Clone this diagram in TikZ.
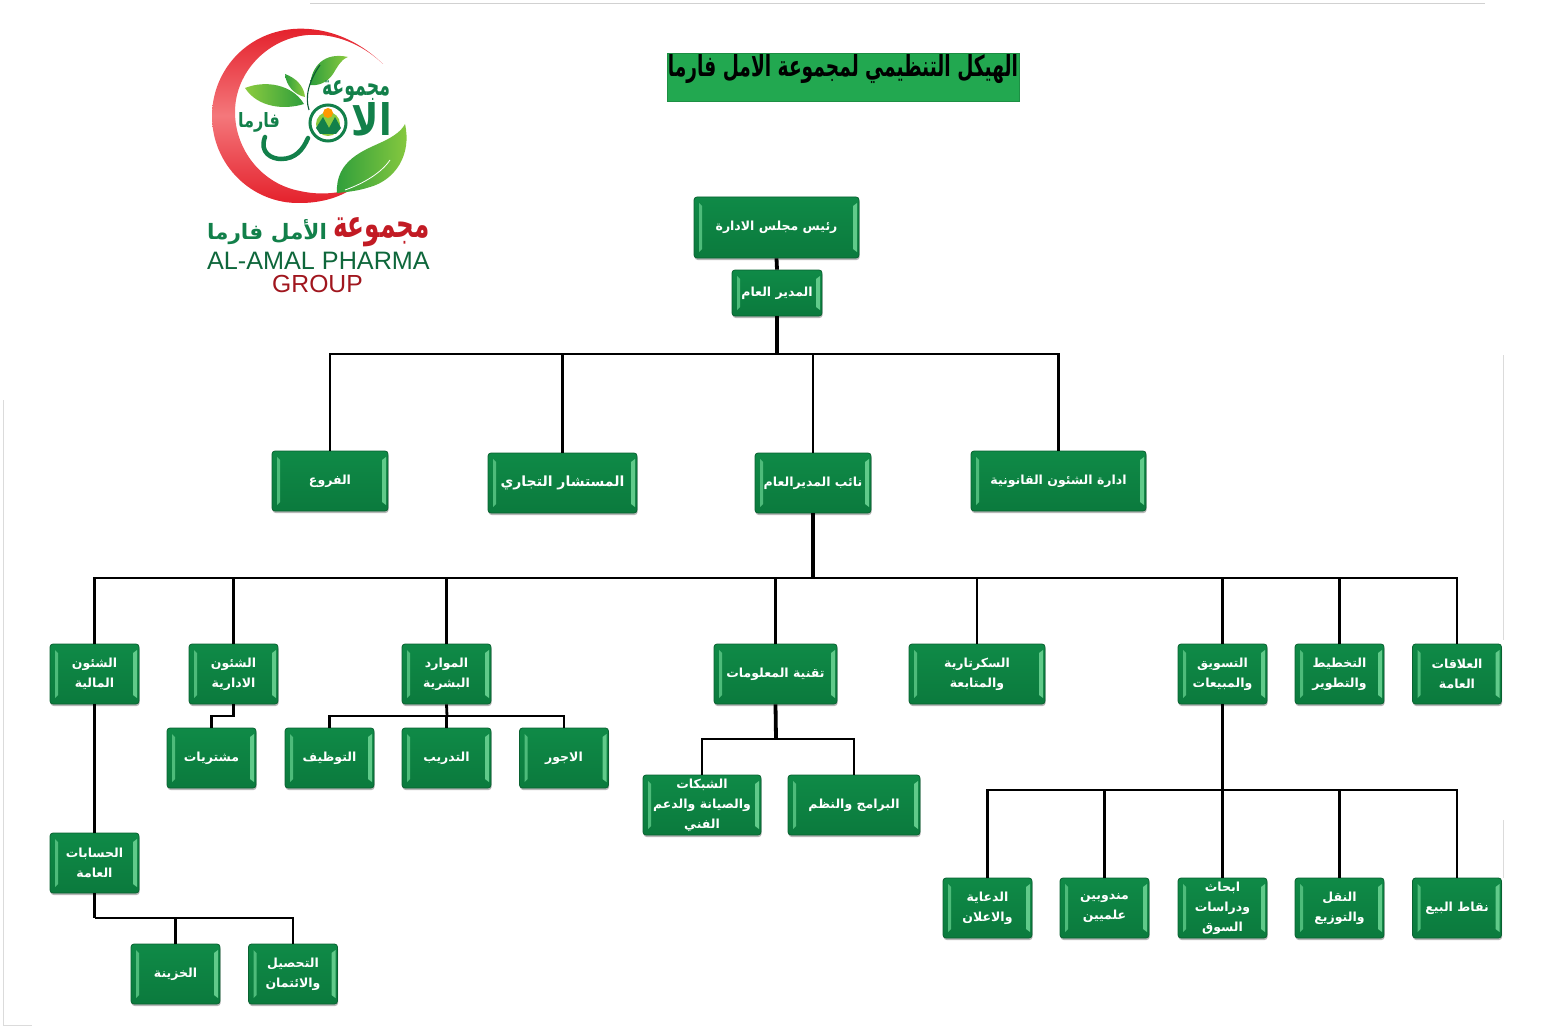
\documentclass[tikz,border=0pt]{standalone}
\usepackage{fontspec}
\usepackage{graphicx}
\usetikzlibrary{shadows,calc}
\TeXXeTstate=1
\newfontfamily\arfont[Script=Arabic]{DejaVu Sans}
\newfontfamily\arbold[Script=Arabic]{DejaVu Sans Bold}
\newfontfamily\latfont{Liberation Sans}
\newcommand{\ar}[1]{\beginR #1\endR}
\definecolor{boxgreen}{HTML}{0F8A47}
\definecolor{boxdark}{HTML}{0B7A3D}
\definecolor{boxlight}{HTML}{6FD596}
\definecolor{titlegreen}{HTML}{22A850}
\definecolor{logored}{HTML}{E4202B}
\definecolor{logopink}{HTML}{F4777B}
\definecolor{logogreen}{HTML}{12804A}
\definecolor{leafA}{HTML}{8CCB3F}
\definecolor{leafB}{HTML}{2E9E3B}
\tikzset{
  gbox/.style={
    rounded corners=3pt, inner sep=0pt, align=center,
    top color=boxgreen, bottom color=boxdark, draw=boxdark!80!black, line width=.8pt,
    text=white, font=\arbold\fontsize{12.5}{20}\selectfont,
    drop shadow={shadow xshift=.6pt,shadow yshift=-2pt,opacity=.4,fill=black!70},
    path picture={
      \fill[boxlight!65!boxgreen,sharp corners]
        ([xshift=5pt,yshift=-6pt]path picture bounding box.north west) --
        ([xshift=8pt,yshift=-9pt]path picture bounding box.north west) --
        ([xshift=8pt,yshift=9pt]path picture bounding box.south west) --
        ([xshift=5pt,yshift=6pt]path picture bounding box.south west) -- cycle;
      \fill[boxlight!85!boxgreen,sharp corners]
        ([xshift=-6pt,yshift=-9pt]path picture bounding box.north east) --
        ([xshift=-2pt,yshift=-6pt]path picture bounding box.north east) --
        ([xshift=-2pt,yshift=6pt]path picture bounding box.south east) --
        ([xshift=-6pt,yshift=9pt]path picture bounding box.south east) -- cycle;
    }},
  conn/.style={draw=black,line width=2.8pt,line join=miter},
  trunk/.style={draw=black,line width=3.8pt},
  wdA/.style={minimum width=89pt,minimum height=60pt},
  logotxt/.style={inner sep=0pt,text=logogreen},
  edgeline/.style={black!14,line width=1pt}
}
\begin{document}
\begin{tikzpicture}[x=1pt,y=-1pt]
\useasboundingbox (0,0) rectangle (1550,1027);
% faint page edges
\draw[black!18,line width=.7pt] (310,3) -- (1485,3);
\draw[edgeline] (1503,355) -- (1503,640);
\draw[edgeline] (1503,820) -- (1503,878);
\draw[edgeline] (3,400) -- (3,1025) -- (32,1025);

% logo crescent
\shade[top color=logored,bottom color=logored,middle color=logopink]
  (383,64) .. controls (352,34) and (318,27) .. (293,29)
  .. controls (245,33) and (212,72) .. (212,116)
  .. controls (212,165) and (252,204) .. (300,203)
  .. controls (320,203) and (338,198) .. (352,189)
  .. controls (335,194) and (318,195) .. (300,191)
  .. controls (262,184) and (235,150) .. (235,112)
  .. controls (235,72) and (268,38) .. (308,35)
  .. controls (335,33) and (362,44) .. (383,64) -- cycle;
% leaves
\shade[left color=leafB,right color=leafA]
  (337,193) .. controls (335,160) and (365,150) .. (382,142)
  .. controls (395,136) and (402,130) .. (405,124)
  .. controls (412,155) and (395,180) .. (370,187)
  .. controls (358,191) and (347,192) .. (337,193) -- cycle;
\draw[white,line width=.8pt] (345,190) .. controls (365,183) and (382,172) .. (390,160);
\shade[left color=leafB,right color=leafA]
  (310,85) .. controls (312,65) and (325,52) .. (348,57)
  .. controls (340,60) and (337,68) .. (333,74)
  .. controls (327,83) and (318,86) .. (310,85) -- cycle;
\shade[left color=leafA,right color=leafB]
  (245,88) .. controls (265,80) and (292,84) .. (304,104)
  .. controls (285,110) and (258,108) .. (245,88) -- cycle;
\shade[left color=leafB,right color=leafA]
  (285,74) .. controls (296,78) and (304,86) .. (305,97)
  .. controls (295,95) and (286,86) .. (285,74) -- cycle;
\draw[logogreen!70!black,line width=1.1pt] (320,65) .. controls (308,82) and (305,98) .. (309,110);
% logo emblem and lettering
\draw[logogreen,line width=4.5pt,line cap=round]
  (265,137) .. controls (259,153) and (272,159) .. (281,159)
  .. controls (295,159) and (303,150) .. (308,138);
\draw[logogreen,line width=3pt,fill=white] (328,123) circle (18pt);
\fill[leafA] (328,124) circle (12pt);
\fill[orange!80!yellow] (328,113) circle (5pt);
\fill[logogreen] (316,128) -- (323,117) -- (329,128) -- (335,117) -- (341,128) -- (336,134) -- (320,134) -- cycle;
\node[logotxt] (lgword) at (356,92) {\resizebox{68pt}{15pt}{\arbold\ar{مجموعة}}};
\node[logotxt] (lgbig) at (372,119) {\resizebox{40pt}{33pt}{\arbold\ar{الا}}};
\node[logotxt] (lgpharma) at (259,122) {\resizebox{42pt}{15pt}{\arbold\ar{فارما}}};
\node[inner sep=0pt,text=logored!85!black] (lgnameA) at (381.5,232) {\resizebox{97pt}{20pt}{\arbold\ar{مجموعة}}};
\node[inner sep=0pt,text=logogreen] (lgnameB) at (267,232) {\resizebox{120pt}{20pt}{\arbold\ar{الأمل فارما}}};
\node[inner sep=0pt,text=logogreen!80!black] (lgen) at (318.5,261) {\latfont\fontsize{25.2}{25.2}\selectfont AL-AMAL PHARMA};
\node[inner sep=0pt,text=logored!70!black] (lggroup) at (317.5,284) {\latfont\fontsize{24.7}{24.7}\selectfont GROUP};

% title
\node[fill=titlegreen,draw=titlegreen!85!black,line width=.6pt,minimum width=352pt,minimum height=48pt,inner sep=0pt] (title) at (843,77) {};
\node[inner sep=0pt,text=black] (titletext) at (843,69) {\resizebox{350pt}{22pt}{\arbold\ar{الهيكل التنظيمي لمجموعة الامل فارما}}};

% connector layer
\coordinate (busA) at (777,354);
\coordinate (busB) at (813,578);
\coordinate (busHR) at (447,716);
\coordinate (busAdm) at (233.5,716);
\coordinate (busIT) at (776,739);
\coordinate (busMk) at (1222.5,790);
\coordinate (busAc) at (94.5,918);

% boxes
\node[gbox,minimum width=165pt,minimum height=61pt] (chair) at (776.5,227.5) {\ar{رئيس مجلس الادارة}};
\node[gbox,minimum width=90pt,minimum height=46pt] (gm) at (777,293) {\ar{المدير العام}};

\node[gbox,minimum width=116pt,minimum height=60pt] (branches) at (330,481) {\ar{الفروع}};
\node[gbox,minimum width=149pt,minimum height=60pt,font=\arbold\fontsize{14}{20}\selectfont] (advisor) at (562.5,483) {\ar{المستشار التجاري}};
\node[gbox,minimum width=116pt,minimum height=60pt] (deputy) at (813,483) {\ar{نائب المديرالعام}};
\node[gbox,minimum width=175pt,minimum height=60pt] (legal) at (1058.5,481) {\ar{ادارة الشئون القانونية}};

\node[gbox,wdA] (finance) at (94.5,674) {\ar{الشئون}\\\ar{المالية}};
\node[gbox,wdA] (admin) at (233.5,674) {\ar{الشئون}\\\ar{الادارية}};
\node[gbox,wdA] (hr) at (446.5,674) {\ar{الموارد}\\\ar{البشرية}};
\node[gbox,minimum width=123pt,minimum height=60pt] (it) at (775.5,674) {\ar{تقنية المعلومات}};
\node[gbox,minimum width=136pt,minimum height=60pt] (sec) at (977,674) {\ar{السكرتارية}\\\ar{والمتابعة}};
\node[gbox,wdA] (mkt) at (1222.5,674) {\ar{التسويق}\\\ar{والمبيعات}};
\node[gbox,wdA] (plan) at (1339.5,674) {\ar{التخطيط}\\\ar{والتطوير}};
\node[gbox,wdA] (pr) at (1457,674) {\ar{العلاقات}\\\ar{العامة}};

\node[gbox,wdA] (purch) at (211.5,758) {\ar{مشتريات}};
\node[gbox,wdA] (recruit) at (329.5,758) {\ar{التوظيف}};
\node[gbox,wdA] (train) at (446.5,758) {\ar{التدريب}};
\node[gbox,wdA] (wages) at (564,758) {\ar{الاجور}};

\node[gbox,minimum width=118pt,minimum height=60pt] (net) at (702,805) {\ar{الشبكات}\\\ar{والصيانة والدعم}\\\ar{الفني}};
\node[gbox,minimum width=132pt,minimum height=60pt] (soft) at (854,805) {\ar{البرامج والنظم}};

\node[gbox,wdA] (acc) at (94.5,863) {\ar{الحسابات}\\\ar{العامة}};
\node[gbox,wdA] (treas) at (175.5,974) {\ar{الخزينة}};
\node[gbox,wdA] (coll) at (293,974) {\ar{التحصيل}\\\ar{والائتمان}};

\node[gbox,wdA] (adv) at (987.5,908) {\ar{الدعاية}\\\ar{والاعلان}};
\node[gbox,wdA] (reps) at (1104.5,908) {\ar{مندوبين}\\\ar{علميين}};
\node[gbox,wdA] (res) at (1222.5,908) {\ar{ابحاث}\\\ar{ودراسات}\\\ar{السوق}};
\node[gbox,wdA] (trans) at (1339.5,908) {\ar{النقل}\\\ar{والتوزيع}};
\node[gbox,wdA] (pos) at (1457,908) {\ar{نقاط البيع}};

% connectors
\draw[trunk] (chair.south) -- (gm.north);
\draw[trunk] (gm.south) -- (busA);
\draw[conn] (busA) -| (branches.north);
\draw[conn] (busA) -| (advisor.north);
\draw[conn] (busA) -| (deputy.north);
\draw[conn] (busA) -| (legal.north);
\draw[trunk] (deputy.south) -- (busB);
\draw[conn] (busB) -| (finance.north);
\draw[conn] (busB) -| (admin.north);
\draw[conn] (busB) -| (hr.north);
\draw[conn] (busB) -| (it.north);
\draw[conn] (busB) -| (sec.north);
\draw[conn] (busB) -| (mkt.north);
\draw[conn] (busB) -| (plan.north);
\draw[conn] (busB) -| (pr.north);
\draw[conn] (admin.south) -- (busAdm) -| (purch.north);
\draw[conn] (hr.south) -- (busHR);
\draw[conn] (busHR) -| (recruit.north);
\draw[conn] (busHR) -| (train.north);
\draw[conn] (busHR) -| (wages.north);
\draw[trunk] (it.south) -- (busIT);
\draw[conn] (busIT) -| (net.north);
\draw[conn] (busIT) -| (soft.north);
\draw[trunk] (mkt.south) -- (busMk);
\draw[conn] (busMk) -| (adv.north);
\draw[conn] (busMk) -| (reps.north);
\draw[conn] (busMk) -| (res.north);
\draw[conn] (busMk) -| (trans.north);
\draw[conn] (busMk) -| (pos.north);
\draw[conn] (finance.south) -- (acc.north);
\draw[conn] (acc.south) -- (busAc);
\draw[conn] (busAc) -| (treas.north);
\draw[conn] (busAc) -| (coll.north);
\end{tikzpicture}
\end{document}
